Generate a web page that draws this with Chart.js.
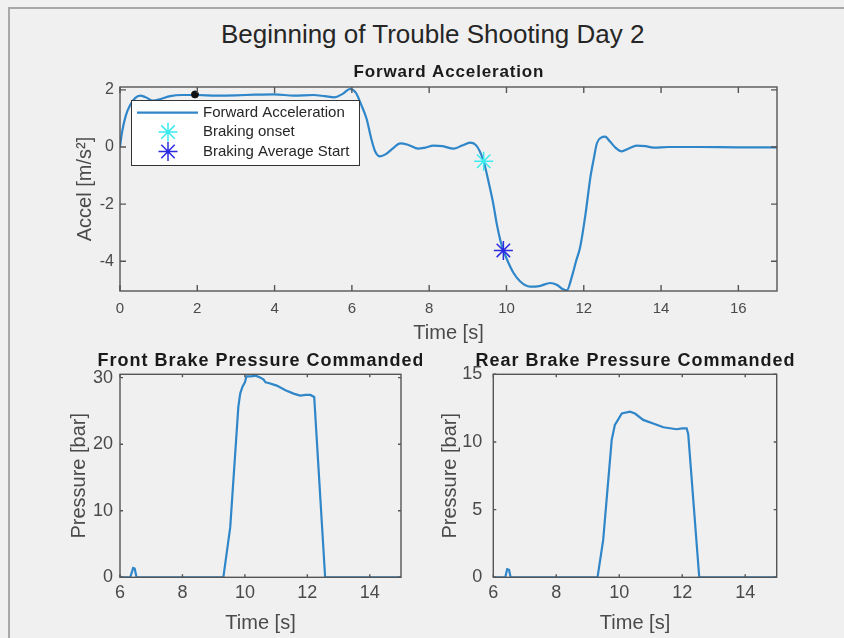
<!DOCTYPE html>
<html>
<head>
<meta charset="utf-8">
<title>Beginning of Trouble Shooting Day 2</title>
<script src="https://cdn.jsdelivr.net/npm/chart.js@4"></script>
<style>
  html, body { margin: 0; padding: 0; background: #f0f0f0; }
  #fig { position: relative; width: 844px; height: 638px; background: #f0f0f0; overflow: hidden; }
  #frame { position: absolute; left: 8px; top: 7px; width: 900px; height: 700px;
           border-top: 2px solid #a8a8a8; border-left: 2px solid #a8a8a8; }
  #suptitle { position: absolute; left: 432.7px; top: 19px; transform: translateX(-50%);
              font: 26px/30px 'Liberation Sans', Arial, sans-serif; color: #262626; white-space: nowrap; }
  .pane { position: absolute; }
  .pane canvas { display: block; }
</style>
</head>
<body>
<div id="fig">
  <div id="frame"></div>
  <div id="suptitle">Beginning of Trouble Shooting Day 2</div>
  <div class="pane" style="left:0;top:0"><canvas id="accelChart" width="844" height="350"></canvas></div>
  <div class="pane" style="left:0;top:330px"><canvas id="frontChart" width="422" height="308"></canvas></div>
  <div class="pane" style="left:422px;top:330px"><canvas id="rearChart" width="422" height="308"></canvas></div>
</div>

<script>
// ---- data ----
const accelTime = [0, 0.05, 0.15, 0.26, 0.39, 0.52, 0.65, 0.86, 1.05, 1.3, 1.6, 2.0, 2.5, 3.0, 3.5, 4.0, 4.5, 5.0,
  5.3, 5.55, 5.75, 5.95, 6.1, 6.25, 6.38, 6.5, 6.6, 6.73, 6.88, 7.07, 7.25, 7.45, 7.72, 7.9, 8.11, 8.35, 8.63,
  8.85, 9.06, 9.2, 9.3, 9.41, 9.55, 9.66, 9.75, 9.84, 9.92, 10.05, 10.18, 10.35, 10.61, 10.85, 11.13, 11.3,
  11.45, 11.56, 11.7, 11.8, 11.91, 12.05, 12.17, 12.26, 12.34, 12.45, 12.55, 12.68, 12.82, 12.98, 13.15,
  13.37, 13.6, 13.8, 14.2, 15, 16, 17];
const accelValues = [0, 0.5, 1.1, 1.46, 1.71, 1.8, 1.75, 1.62, 1.68, 1.78, 1.82, 1.82, 1.8, 1.81, 1.83, 1.84, 1.8, 1.82,
  1.78, 1.74, 1.85, 2.03, 1.9, 1.45, 0.99, 0.3, -0.15, -0.33, -0.25, -0.04, 0.13, 0.08, -0.06, -0.02, 0.05, 0.03, -0.06,
  0.05, 0.15, 0.08, -0.12, -0.5, -1.3, -2.0, -2.7, -3.26, -3.62, -4.05, -4.4, -4.7, -4.89, -4.87, -4.76, -4.82,
  -4.97, -5.02, -4.5, -4.0, -3.48, -2.3, -1.07, -0.4, 0.13, 0.33, 0.36, 0.19, -0.02, -0.15, -0.06,
  0.05, 0.03, -0.02, 0, 0, -0.01, -0.01];
const brakingOnset = [9.41, -0.5];
const brakingAvgStart = [9.92, -3.62];
const markerDot = [1.94, 1.84];

const frontTime = [6, 6.33, 6.42, 6.47, 6.53, 9.31, 9.53, 9.79, 9.85, 9.92, 10.0, 10.05, 10.2, 10.35, 10.5, 10.6,
  10.66, 10.76, 11.02, 11.3, 11.56, 11.77, 11.95, 12.1, 12.22, 12.57, 15];
const frontPressure = [0, 0, 1.4, 1.3, 0, 0, 7.5, 25.6, 27.6, 28.6, 29.3, 30.2, 30.2, 30.3, 30.0, 29.7,
  29.3, 29.2, 28.8, 28.1, 27.6, 27.3, 27.4, 27.4, 27.1, 0, 0];

const rearTime = [6, 6.38, 6.44, 6.5, 6.55, 9.31, 9.49, 9.76, 9.86, 9.95, 10.08, 10.34, 10.5, 10.76, 11.1, 11.4,
  11.82, 12.0, 12.14, 12.19, 12.54, 15];
const rearPressure = [0, 0, 0.6, 0.55, 0, 0, 2.76, 10.15, 11.26, 11.6, 12.1, 12.24, 12.1, 11.63, 11.35, 11.09,
  10.94, 11.0, 11.0, 10.6, 0, 0];

const accelTimeTicks = [0, 2, 4, 6, 8, 10, 12, 14, 16];
const accelTicks = [-4, -2, 0, 2];
const brakeTimeTicks = [6, 8, 10, 12, 14];
const frontTicks = [0, 10, 20, 30];
const rearTicks = [0, 5, 10, 15];

// ---- look ----
const LINE_BLUE = "#2f86c9";
const AXIS_GREY = "#555555";
const TEXT_GREY = "#4a4a4a";
const FONT = "'Liberation Sans', Arial, sans-serif";

Chart.defaults.font.family = FONT;
Chart.defaults.color = TEXT_GREY;
Chart.defaults.animation = false;

function toPoints(xs, ys) {
  return xs.map((x, i) => ({ x: x, y: ys[i] }));
}

function useTicks(values) {
  return function (scale) {
    scale.ticks = values.map(v => ({ value: v }));
  };
}

function fixWidth(w) {
  return function (scale) { scale.width = w; };
}

function fixHeight(h) {
  return function (scale) { scale.height = h; };
}

// axes box with inward tick marks (MATLAB "box on")
const matlabBox = {
  id: "matlabBox",
  afterDatasetsDraw(chart, args, opts) {
    const ctx = chart.ctx;
    const a = chart.chartArea;
    const len = opts.tickLen || 4;
    const xs = chart.scales.x;
    const ys = chart.scales.y;
    ctx.save();
    ctx.strokeStyle = AXIS_GREY;
    ctx.lineWidth = 1.4;
    ctx.beginPath();
    xs.ticks.forEach(t => {
      const px = xs.getPixelForValue(t.value);
      ctx.moveTo(px, a.bottom); ctx.lineTo(px, a.bottom - len);
      ctx.moveTo(px, a.top); ctx.lineTo(px, a.top + len);
    });
    ys.ticks.forEach(t => {
      const py = ys.getPixelForValue(t.value);
      ctx.moveTo(a.left, py); ctx.lineTo(a.left + len, py);
      ctx.moveTo(a.right, py); ctx.lineTo(a.right - len, py);
    });
    ctx.stroke();
    ctx.strokeRect(a.left, a.top, a.right - a.left, a.bottom - a.top);
    ctx.restore();
  }
};

// bold axes title centred over the plot area (may be wider than the plot)
const axesTitle = {
  id: "axesTitle",
  afterDraw(chart, args, opts) {
    const ctx = chart.ctx;
    const a = chart.chartArea;
    ctx.save();
    ctx.font = "bold " + opts.size + "px " + FONT;
    if ("letterSpacing" in ctx) ctx.letterSpacing = opts.spacing + "px";
    ctx.fillStyle = "#1a1a1a";
    ctx.textAlign = "center";
    ctx.textBaseline = "middle";
    ctx.fillText(opts.text, (a.left + a.right) / 2 + opts.spacing / 2, a.top - opts.gap);
    ctx.restore();
  }
};

function drawStar(ctx, x, y, r, color, lw) {
  const d = r * Math.SQRT1_2;
  ctx.save();
  ctx.strokeStyle = color;
  ctx.lineWidth = lw;
  ctx.beginPath();
  ctx.moveTo(x - r, y); ctx.lineTo(x + r, y);
  ctx.moveTo(x, y - r); ctx.lineTo(x, y + r);
  ctx.moveTo(x - d, y - d); ctx.lineTo(x + d, y + d);
  ctx.moveTo(x - d, y + d); ctx.lineTo(x + d, y - d);
  ctx.stroke();
  ctx.restore();
}

// legend box inside the axes, upper left
const insideLegend = {
  id: "insideLegend",
  afterDraw(chart) {
    const ctx = chart.ctx;
    const a = chart.chartArea;
    const items = chart.data.datasets.filter(d => d.inLegend);
    const x0 = a.left + 11.5;
    const y0 = a.top + 13.5;
    ctx.save();
    ctx.fillStyle = "#ffffff";
    ctx.strokeStyle = "#333333";
    ctx.lineWidth = 1;
    ctx.fillRect(x0, y0, 228, 65);
    ctx.strokeRect(x0, y0, 228, 65);
    ctx.font = "15px " + FONT;
    ctx.textBaseline = "middle";
    ctx.fillStyle = "#262626";
    items.forEach((d, i) => {
      const y = y0 + 12.2 + i * 19.4;
      if (d.pointStyle === "star") {
        drawStar(ctx, x0 + 36.5, y, 9.5, d.pointBorderColor, 1.5);
      } else {
        ctx.strokeStyle = d.borderColor;
        ctx.lineWidth = d.borderWidth;
        ctx.beginPath();
        ctx.moveTo(x0 + 5.5, y); ctx.lineTo(x0 + 66.5, y);
        ctx.stroke();
      }
      ctx.fillText(d.label, x0 + 71.5, y);
    });
    ctx.restore();
  }
};

function xScale(min, max, ticks, height, font, tickPad, titlePad) {
  return {
    type: "linear", min: min, max: max,
    afterBuildTicks: useTicks(ticks),
    afterFit: fixHeight(height),
    grid: { display: false, drawTicks: false },
    border: { display: false },
    ticks: { font: { size: font }, padding: tickPad, maxRotation: 0, autoSkip: false, color: TEXT_GREY },
    title: { display: true, text: "Time [s]", font: { size: 20 }, color: TEXT_GREY, padding: { top: 0, bottom: titlePad } }
  };
}

function yScale(min, max, ticks, width, font, tickPad, label, titlePad) {
  return {
    type: "linear", min: min, max: max,
    afterBuildTicks: useTicks(ticks),
    afterFit: fixWidth(width),
    grid: { display: false, drawTicks: false },
    border: { display: false },
    ticks: { font: { size: font }, padding: tickPad, color: TEXT_GREY },
    title: { display: true, text: label, font: { size: 20 }, color: TEXT_GREY, padding: { top: titlePad, bottom: 0 } }
  };
}

// ---- Forward acceleration ----
new Chart(document.getElementById("accelChart"), {
  type: "line",
  data: {
    datasets: [
      {
        label: "Forward Acceleration", inLegend: true,
        data: toPoints(accelTime, accelValues),
        borderColor: LINE_BLUE, borderWidth: 2.2, pointRadius: 0,
        cubicInterpolationMode: "monotone", order: 3
      },
      {
        label: "Braking onset", inLegend: true,
        data: [{ x: brakingOnset[0], y: brakingOnset[1] }],
        showLine: false, pointStyle: "star", pointRadius: 9.5,
        pointBorderColor: "#3cebf0", pointBackgroundColor: "#3cebf0", pointBorderWidth: 1.5, order: 1
      },
      {
        label: "Braking Average Start", inLegend: true,
        data: [{ x: brakingAvgStart[0], y: brakingAvgStart[1] }],
        showLine: false, pointStyle: "star", pointRadius: 9.5,
        pointBorderColor: "#2a2ae0", pointBackgroundColor: "#2a2ae0", pointBorderWidth: 1.5, order: 0
      },
      {
        label: "marker",
        data: [{ x: markerDot[0], y: markerDot[1] }],
        showLine: false, pointStyle: "circle", pointRadius: 3.5,
        pointBorderColor: "#111111", pointBackgroundColor: "#111111", order: 2
      }
    ]
  },
  options: {
    responsive: false,
    layout: { autoPadding: false, padding: { left: 0, right: 67, top: 87, bottom: 0 } },
    plugins: {
      legend: { display: false },
      tooltip: { enabled: false },
      axesTitle: { text: "Forward Acceleration", size: 17, spacing: 0.85, gap: 14.5 },
      matlabBox: { tickLen: 6 }
    },
    scales: {
      x: xScale(0, 17, accelTimeTicks, 59, 15, 9.3, 4.5),
      y: yScale(-5.04, 2.1, accelTicks, 120, 16, 6, "Accel [m/s²]", 73)
    }
  },
  plugins: [matlabBox, insideLegend, axesTitle]
});

// ---- Brake pressures ----
function brakeChart(id, title, xs, ys, yMax, yTicks, axisWidth, padRight, tickPad, titlePad) {
  return new Chart(document.getElementById(id), {
    type: "line",
    data: {
      datasets: [{
        label: title,
        data: toPoints(xs, ys),
        borderColor: LINE_BLUE, borderWidth: 2.2, pointRadius: 0, tension: 0
      }]
    },
    options: {
      responsive: false,
      layout: { autoPadding: false, padding: { left: 0, right: padRight, top: 44.3, bottom: 0 } },
      plugins: {
        legend: { display: false },
        tooltip: { enabled: false },
        axesTitle: { text: title, size: 18, spacing: 1, gap: 12.8 },
        matlabBox: { tickLen: 3 }
      },
      scales: {
        x: xScale(6, 15, brakeTimeTicks, 60.7, 18, 4.6, 2.7),
        y: yScale(0, yMax, yTicks, axisWidth, 18, tickPad, "Pressure [bar]", titlePad)
      }
    },
    plugins: [matlabBox, axesTitle]
  });
}

brakeChart("frontChart", "Front Brake Pressure Commanded", frontTime, frontPressure, 30.5, frontTicks, 120, 21, 7, 67);
brakeChart("rearChart", "Rear Brake Pressure Commanded", rearTime, rearPressure, 15, rearTicks, 71.3, 67.3, 11, 16);
</script>
</body>
</html>
